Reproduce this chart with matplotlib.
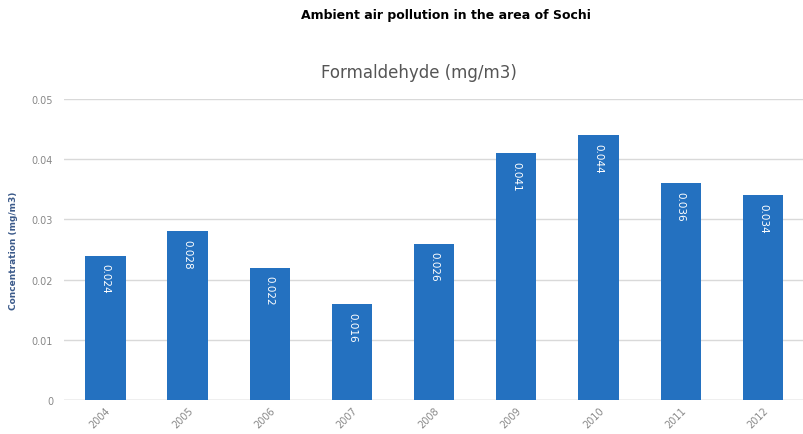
import matplotlib
matplotlib.use("Agg")
import matplotlib.pyplot as plt
import numpy as np

years = ["2004", "2005", "2006", "2007", "2008", "2009", "2010", "2011", "2012"]
formaldehyde = [0.024, 0.028, 0.022, 0.016, 0.026, 0.041, 0.044, 0.036, 0.034]
value_labels = ["0.024", "0.028", "0.022", "0.016", "0.026", "0.041", "0.044", "0.036", "0.034"]

fig = plt.figure(figsize=(8.04, 4.35), dpi=100)
ax = fig.add_axes([0.08, 0.078, 0.92, 0.692])

x = np.arange(len(years))
bars = ax.bar(x, formaldehyde, width=0.49, color="#2471c0", zorder=3)

for xi, v, lab in zip(x, formaldehyde, value_labels):
    ax.text(xi, v - 0.0013, lab, rotation=270, ha="center", va="top",
            color="white", fontsize=7.5, zorder=4)

ax.set_xlim(-0.5, len(years) - 0.5)
ax.set_ylim(0, 0.05)
ax.set_yticks([0, 0.01, 0.02, 0.03, 0.04, 0.05])
ax.set_yticklabels(["0", "0.01", "0.02", "0.03", "0.04", "0.05"])
ax.set_xticks(x)
ax.set_xticklabels(years, rotation=45, ha="right", rotation_mode="anchor")
ax.tick_params(axis="both", colors="#888888", labelsize=7, length=0)
ax.tick_params(axis="y", pad=8)
ax.grid(axis="y", color="#d9d9d9", linewidth=1, zorder=0)
for s in ax.spines.values():
    s.set_visible(False)
ax.axhline(0, color="#d0d0d0", linewidth=1, zorder=2)

ax.set_ylabel("Concentration (mg/m3)", color="#3b5a8a", fontsize=6.5,
              fontweight="semibold", labelpad=10)
fig.text(0.521, 0.832, "Formaldehyde (mg/m3)", ha="center", va="center",
         color="#555555", fontsize=12)
fig.text(0.555, 0.965, "Ambient air pollution in the area of Sochi",
         ha="center", va="center", fontsize=9, fontweight="heavy", color="black")

fig.savefig("out.png", dpi=100)
